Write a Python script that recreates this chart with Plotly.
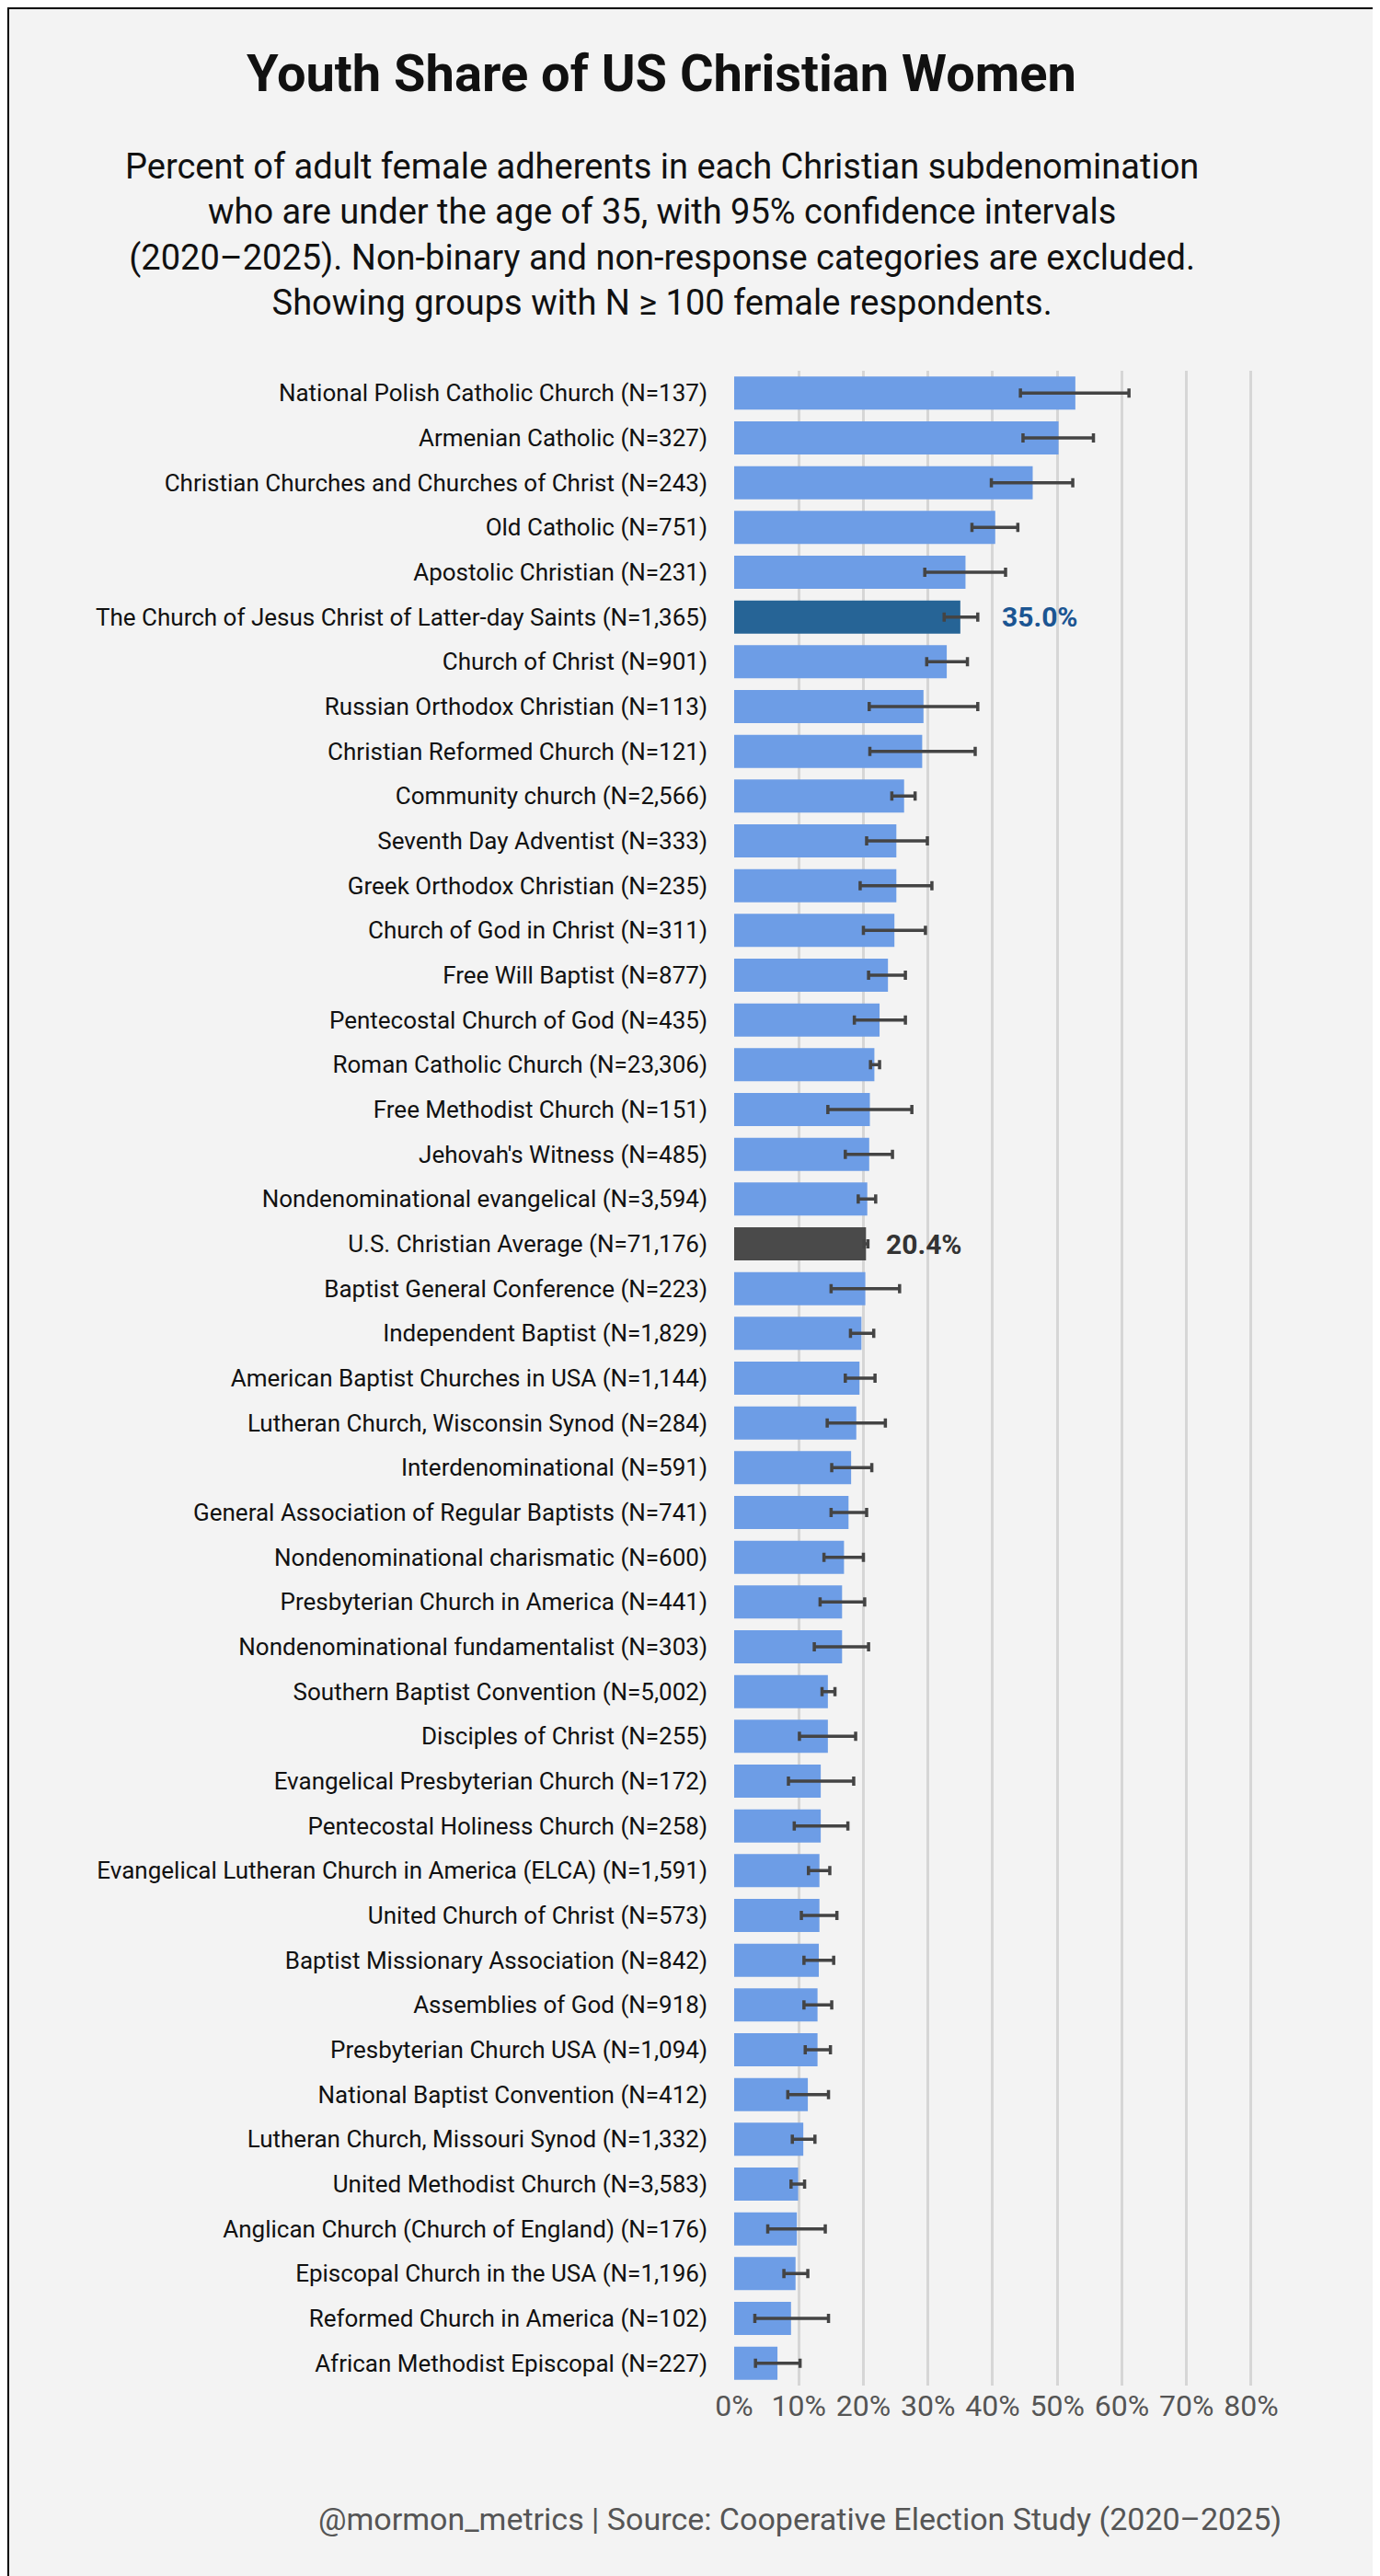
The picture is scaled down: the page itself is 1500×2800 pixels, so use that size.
import plotly.graph_objects as go

names = ["National Polish Catholic Church","Armenian Catholic","Christian Churches and Churches of Christ","Old Catholic","Apostolic Christian","The Church of Jesus Christ of Latter-day Saints","Church of Christ","Russian Orthodox Christian","Christian Reformed Church","Community church","Seventh Day Adventist","Greek Orthodox Christian","Church of God in Christ","Free Will Baptist","Pentecostal Church of God","Roman Catholic Church","Free Methodist Church","Jehovah's Witness","Nondenominational evangelical","U.S. Christian Average","Baptist General Conference","Independent Baptist","American Baptist Churches in USA","Lutheran Church, Wisconsin Synod","Interdenominational","General Association of Regular Baptists","Nondenominational charismatic","Presbyterian Church in America","Nondenominational fundamentalist","Southern Baptist Convention","Disciples of Christ","Evangelical Presbyterian Church","Pentecostal Holiness Church","Evangelical Lutheran Church in America (ELCA)","United Church of Christ","Baptist Missionary Association","Assemblies of God","Presbyterian Church USA","National Baptist Convention","Lutheran Church, Missouri Synod","United Methodist Church","Anglican Church (Church of England)","Episcopal Church in the USA","Reformed Church in America","African Methodist Episcopal"]
counts = ["137","327","243","751","231","1,365","901","113","121","2,566","333","235","311","877","435","23,306","151","485","3,594","71,176","223","1,829","1,144","284","591","741","600","441","303","5,002","255","172","258","1,591","573","842","918","1,094","412","1,332","3,583","176","1,196","102","227"]
values = [52.8,50.2,46.2,40.4,35.8,35.0,32.9,29.3,29.1,26.3,25.1,25.1,24.8,23.8,22.5,21.7,21.0,20.9,20.6,20.4,20.3,19.7,19.4,18.9,18.1,17.7,17.0,16.7,16.7,14.5,14.5,13.4,13.4,13.2,13.2,13.1,12.9,12.9,11.4,10.7,9.9,9.7,9.5,8.8,6.7]
ci_low = [44.3,44.7,39.8,36.8,29.5,32.5,29.8,20.9,21.0,24.4,20.5,19.5,20.0,20.8,18.6,21.1,14.5,17.2,19.2,20.1,15.0,18.0,17.2,14.4,15.1,15.0,13.9,13.3,12.4,13.6,10.1,8.4,9.3,11.5,10.4,10.8,10.8,11.0,8.3,9.0,8.8,5.2,7.7,3.2,3.3]
ci_high = [61.1,55.6,52.4,43.9,42.0,37.7,36.1,37.7,37.3,28.0,29.9,30.6,29.6,26.5,26.5,22.5,27.5,24.5,21.9,20.7,25.6,21.6,21.8,23.4,21.3,20.5,20.0,20.2,20.8,15.6,18.8,18.5,17.6,14.8,15.9,15.4,15.1,14.9,14.6,12.5,10.9,14.1,11.4,14.6,10.2]
x_ticks = [0,10,20,30,40,50,60,70,80]

labels = [f"{n} (N={c})" for n, c in zip(names, counts)]
lds = "The Church of Jesus Christ of Latter-day Saints"
avg = "U.S. Christian Average"
colors = ["#266496" if n == lds else "#4a4a4a" if n == avg else "#6d9de6" for n in names]

FONT = "Roboto, sans-serif"
W, H = 1500, 2800
L, R, T, B = 790, 120, 395, 215
pw, ph = W - L - R, H - T - B
def px(x): return (x - L) / pw
def py(y): return (H - B - y) / ph

fig = go.Figure(go.Bar(
    y=labels, x=values, orientation="h", marker=dict(color=colors, line_width=0),
    width=0.74,
    error_x=dict(type="data", symmetric=False,
                 array=[h - v for h, v in zip(ci_high, values)],
                 arrayminus=[v - l for l, v in zip(ci_low, values)],
                 color="#444444", thickness=3.5, width=5),
))

ann = []
for n, lab, v, hi in zip(names, labels, values, ci_high):
    if n == lds:
        ann.append(dict(x=hi + 3.5, y=lab, xref="x", yref="y", text=f"<b>{v:.1f}%</b>", showarrow=False,
                        xanchor="left", font=dict(size=30, color="#1b5592", family=FONT)))
    if n == avg:
        ann.append(dict(x=hi + 2.5, y=lab, xref="x", yref="y", text=f"<b>{v:.1f}%</b>", showarrow=False,
                        xanchor="left", font=dict(size=30, color="#333333", family=FONT)))
ann.append(dict(x=px(711), y=py(72), xref="paper", yref="paper", text="<b>Youth Share of US Christian Women</b>",
                showarrow=False, xanchor="center", yanchor="middle", font=dict(size=56, color="#111111", family=FONT)))
ann.append(dict(x=px(711), y=py(247), xref="paper", yref="paper",
                text="Percent of adult female adherents in each Christian subdenomination<br>who are under the age of 35, with 95% confidence intervals<br>(2020–2025). Non-binary and non-response categories are excluded.<br>Showing groups with N ≥ 100 female respondents.",
                showarrow=False, xanchor="center", yanchor="middle", align="center",
                font=dict(size=38, color="#111111", family=FONT)))
ann.append(dict(x=px(1387), y=py(2730), xref="paper", yref="paper",
                text="@mormon_metrics | Source: Cooperative Election Study (2020–2025)",
                showarrow=False, xanchor="right", yanchor="middle", font=dict(size=34, color="#555555", family=FONT)))

fig.update_layout(
    width=W, height=H, margin=dict(l=L, r=R, t=T, b=B),
    paper_bgcolor="#f3f3f3", plot_bgcolor="#f3f3f3",
    showlegend=False, annotations=ann, bargap=0.26,
    shapes=[dict(type="rect", xref="paper", yref="paper", x0=px(1), x1=px(W - 1), y0=py(H - 1), y1=py(1),
                 line=dict(color="#000000", width=2), layer="below")],
    xaxis=dict(range=[0, 84], tickvals=x_ticks, ticktext=[f"{t}%" for t in x_ticks],
               showgrid=True, gridcolor="#d6d6d6", gridwidth=3, zeroline=False,
               tickfont=dict(size=32, color="#555555", family=FONT), ticks="", fixedrange=True),
    yaxis=dict(tickfont=dict(size=26, color="#111111", family=FONT),
               ticks="", ticklabelstandoff=28, showgrid=False),
)
fig.update_yaxes(range=[len(labels) - 0.5, -0.5], autorange=False)
fig.write_html("out.html")
